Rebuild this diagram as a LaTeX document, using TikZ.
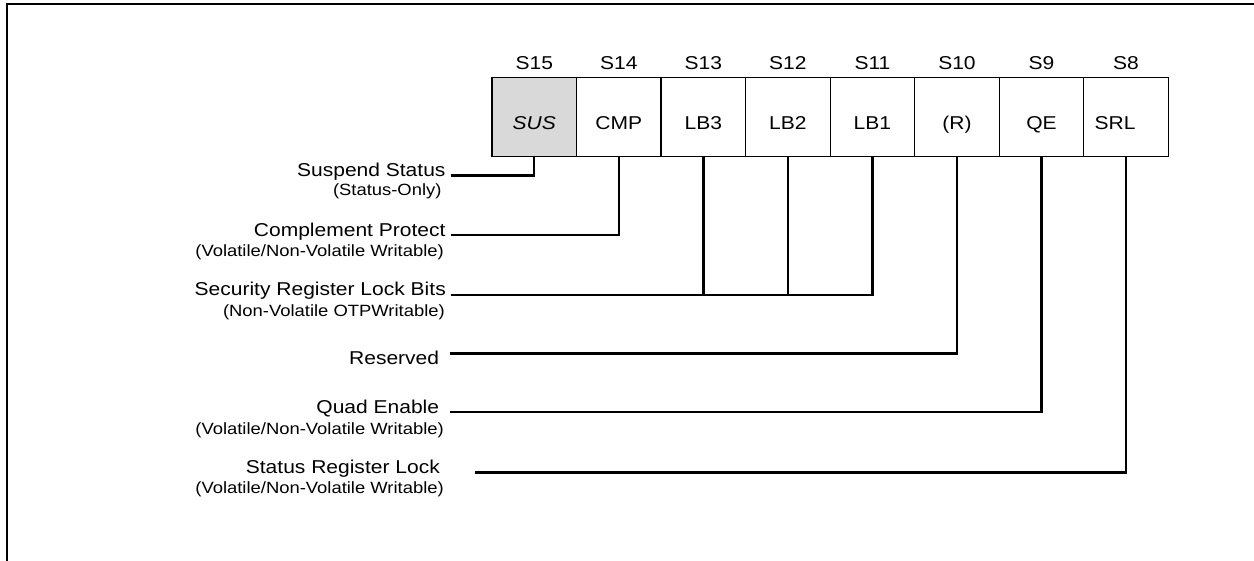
\documentclass[tikz,border=0pt]{standalone}
\usepackage{fontspec}
\setmainfont{Liberation Sans}[FakeStretch=1.13]
\definecolor{susgray}{RGB}{217,217,217}
\begin{document}
\begin{tikzpicture}[x=1pt,y=-1pt,
  bit/.style={draw, line width=1.3pt, minimum width=84.54pt, minimum height=79.4pt, inner sep=0pt},
  bittxt/.style={anchor=base, inner sep=0pt, font=\fontsize{18.6}{20}\selectfont},
  head/.style={anchor=base, inner sep=0pt, font=\fontsize{18.6}{20}\selectfont},
  lbl/.style={anchor=base east, inner sep=0pt, font=\fontsize{18.6}{20}\selectfont},
  sublbl/.style={anchor=base east, inner sep=0pt, font=\fontsize{16.3}{18}\selectfont},
  wire/.style={line width=2.3pt},
  framestyle/.style={line width=2pt}]
\useasboundingbox (0,0) rectangle (1254,561);
% frame
\coordinate (fr1) at (1254,4.3);
\coordinate (fr2) at (7,4.3);
\coordinate (fr3) at (7,561);
\draw[framestyle] (fr1) -- (fr2) -- (fr3);
% bit boxes
\node[bit, fill=susgray] (b15) at (534.27,117) {};
\node[bit] (b14) at (618.81,117) {};
\node[bit] (b13) at (703.35,117) {};
\node[bit] (b12) at (787.89,117) {};
\node[bit] (b11) at (872.43,117) {};
\node[bit] (b10) at (956.97,117) {};
\node[bit] (b9) at (1041.51,117) {};
\node[bit] (b8) at (1126.05,117) {};
% texts in boxes
\node[bittxt] (t15) at (534.27,130) {\itshape SUS};
\node[bittxt] (t14) at (618.81,130) {CMP};
\node[bittxt] (t13) at (703.35,130) {LB3};
\node[bittxt] (t12) at (787.89,130) {LB2};
\node[bittxt] (t11) at (872.43,130) {LB1};
\node[bittxt] (t10) at (956.97,130) {(R)};
\node[bittxt] (t9) at (1041.51,130) {QE};
\node[bittxt] (t8) at (1115,130) {SRL};
% headings
\node[head] (h15) at (534.27,70) {S15};
\node[head] (h14) at (618.81,70) {S14};
\node[head] (h13) at (703.35,70) {S13};
\node[head] (h12) at (787.89,70) {S12};
\node[head] (h11) at (872.43,70) {S11};
\node[head] (h10) at (956.97,70) {S10};
\node[head] (h9) at (1041.51,70) {S9};
\node[head] (h8) at (1126.05,70) {S8};
% labels
\node[lbl] (l15) at (445.7,177) {Suspend Status};
\node[sublbl] (s15) at (441.7,195.5) {(Status-Only)};
\node[lbl] (l14) at (445.7,236.5) {Complement Protect};
\node[sublbl] (s14) at (444,256.5) {(Volatile/Non-Volatile Writable)};
\node[lbl] (l13) at (446,296) {Security Register Lock Bits};
\node[sublbl] (s13) at (445,317) {(Non-Volatile OTPWritable)};
\node[lbl] (l10) at (439.3,365) {Reserved};
\node[lbl] (l9) at (439.3,413.5) {Quad Enable};
\node[sublbl] (s9) at (444,435) {(Volatile/Non-Volatile Writable)};
\node[lbl] (l8) at (440,473) {Status Register Lock};
\node[sublbl] (s8) at (444,493.5) {(Volatile/Non-Volatile Writable)};
% connector start points
\coordinate (c15) at (451,175.5);
\coordinate (c14) at (451,235);
\coordinate (c13) at (451,295);
\coordinate (c10) at (450,353.5);
\coordinate (c9) at (450,412.3);
\coordinate (c8) at (475,472.5);
% connectors
\draw[wire] (c15) -- (c15 -| b15.south) -- (b15.south);
\draw[wire] (c14) -- (c14 -| b14.south) -- (b14.south);
\draw[wire] (c13) -- (c13 -| b11.south) -- (b11.south);
\draw[wire] (b13.south) -- (b13.south |- c13);
\draw[wire] (b12.south) -- (b12.south |- c13);
\draw[wire] (c10) -- (c10 -| b10.south) -- (b10.south);
\draw[wire] (c9) -- (c9 -| b9.south) -- (b9.south);
\draw[wire] (c8) -- (c8 -| b8.south) -- (b8.south);
\end{tikzpicture}
\end{document}
